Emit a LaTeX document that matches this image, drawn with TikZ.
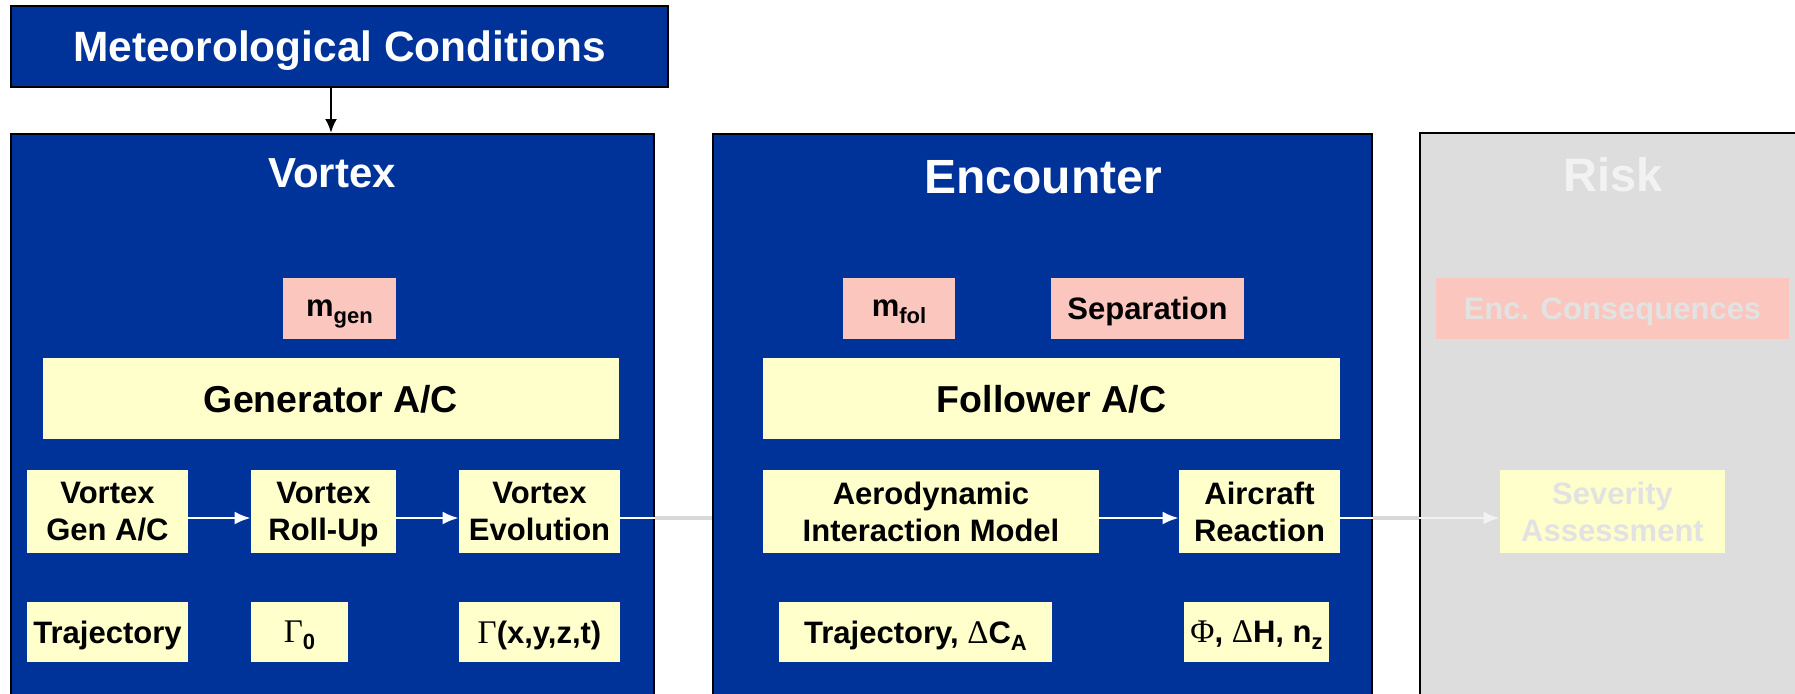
\documentclass[tikz,border=0pt]{standalone}
\usepackage{fontspec}
\setmainfont{Liberation Sans}
\newfontfamily\grk{Liberation Serif}
\usetikzlibrary{arrows.meta,fit}

\definecolor{panelblue}{RGB}{0,51,153}
\definecolor{paleyellow}{RGB}{255,255,204}
\definecolor{salmonpink}{RGB}{251,198,190}
\definecolor{riskgrey}{RGB}{221,221,221}
\definecolor{ghosttext}{RGB}{226,226,226}
\definecolor{ghostwhite}{RGB}{242,242,242}
\definecolor{gapgrey}{RGB}{216,216,216}

% lowered, smaller index text
\newcommand\subtxt[1]{\raisebox{-3.5pt}{\fontsize{11pt}{11pt}\selectfont #1}}
% Greek letters in a serif face
\newcommand\gk[1]{{\grk\mdseries\fontsize{16.5pt}{18pt}\selectfont #1}}

\tikzset{
  panel/.style={fill=panelblue, draw=black, line width=1pt, inner sep=0pt},
  ghostpanel/.style={fill=riskgrey, draw=black, line width=1pt, inner sep=0pt},
  paneltitle/.style={text=white, anchor=base, inner sep=0pt},
  ybox/.style={fill=paleyellow, inner sep=0pt},
  pbox/.style={fill=salmonpink, inner sep=0pt},
  boxtext/.style={inner sep=0pt, align=center, text depth=0pt,
    font=\bfseries\fontsize{15.5pt}{18.5pt}\selectfont},
  bigtext/.style={inner sep=0pt, text depth=0pt,
    font=\bfseries\fontsize{18.75pt}{22pt}\selectfont},
  wire/.style={draw=white, line width=1.25pt},
  warrow/.style={wire, -{Latex[length=8pt,width=6.5pt]}},
  gapwire/.style={draw=gapgrey, line width=2pt},
  ghostarrow/.style={draw=ghostwhite, line width=1.25pt,
    -{Latex[length=8pt,width=6.5pt]}},
}

\begin{document}
\begin{tikzpicture}[x=0.5pt,y=-0.5pt]
\useasboundingbox (0,0) rectangle (1795,693);
\clip (0,0) rectangle (1795,693);

% top input box
\node[panel, fit={(11,6) (668,87)},
      label={[inner sep=0pt, text depth=0pt, text=white, font=\bfseries\fontsize{21.2pt}{24pt}\selectfont]center:{Meteorological Conditions}}] (meteo) {};

% three column panels
\node[panel, fit={(11,134) (654,700)}] (vortex) {};
\node[panel, fit={(713,134) (1372,700)}] (enc) {};
\node[ghostpanel, fit={(1420,133) (1805,700)}] (risk) {};

\node[paneltitle, font=\bfseries\fontsize{21pt}{24pt}\selectfont] (vtitle) at (332,187) {Vortex};
\node[paneltitle, font=\bfseries\fontsize{24pt}{28pt}\selectfont] (etitle) at (1043,193) {Encounter};
\node[paneltitle, text=ghostwhite, font=\bfseries\fontsize{23.5pt}{28pt}\selectfont] (rtitle) at (1613,191) {Risk};

% Vortex column
\node[pbox, fit={(283,278) (396,339)}, label={[boxtext]center:{m\subtxt{gen}}}] (mgen) {};
\node[ybox, fit={(43,358) (619,439)}, label={[bigtext]center:{Generator A/C}}] (gen) {};
\node[ybox, fit={(27,470) (188,553)}, label={[boxtext]center:{Vortex\\Gen A/C}}] (vgen) {};
\node[ybox, fit={(251,470) (396,553)}, label={[boxtext]center:{Vortex\\Roll-Up}}] (vroll) {};
\node[ybox, fit={(459,470) (620,553)}, label={[boxtext]center:{Vortex\\Evolution}}] (vevo) {};
\node[ybox, fit={(27,602) (188,662)}, label={[boxtext]center:{Trajectory}}] (traj) {};
\node[ybox, fit={(251,602) (348,662)}, label={[boxtext]center:{\gk{Γ}\subtxt{0}}}] (gam0) {};
\node[ybox, fit={(459,602) (620,662)}, label={[boxtext]center:{\gk{Γ}(x,y,z,t)}}] (gamxyz) {};

% Encounter column
\node[pbox, fit={(843,278) (955,339)}, label={[boxtext]center:{m\subtxt{fol}}}] (mfol) {};
\node[pbox, fit={(1051,278) (1244,339)}, label={[boxtext]center:{Separation}}] (sep) {};
\node[ybox, fit={(763,358) (1340,439)}, label={[bigtext]center:{Follower A/C}}] (fol) {};
\node[ybox, fit={(763,470) (1099,553)}, label={[boxtext]center:{Aerodynamic\\Interaction Model}}] (aero) {};
\node[ybox, fit={(1179,470) (1340,553)}, label={[boxtext]center:{Aircraft\\Reaction}}] (acr) {};
\node[ybox, fit={(779,602) (1052,662)}, label={[boxtext]center:{Trajectory, \gk{Δ}C\subtxt{A}}}] (trajdc) {};
\node[ybox, fit={(1184,602) (1329,662)}, label={[boxtext]center:{\gk{Φ}, \gk{Δ}H, n\subtxt{z}}}] (phi) {};

% Risk column (greyed out)
\node[pbox, fit={(1436,278) (1789,339)}, label={[boxtext, text=ghosttext]center:{Enc. Consequences}}] (encc) {};
\node[ybox, fit={(1500,470) (1725,553)}, label={[boxtext, text=ghosttext]center:{Severity\\Assessment}}] (sev) {};

% connectors
\coordinate (ry) at (0,518);
\coordinate (mx) at (331,0);
\draw[line width=1.3pt, -{Latex[length=7pt,width=6pt]}] (meteo.south -| mx) -- (vortex.north -| mx);

\draw[warrow] (vgen.east |- ry) -- (vroll.west |- ry);
\draw[warrow] (vroll.east |- ry) -- (vevo.west |- ry);
\draw[wire] (vevo.east |- ry) -- (vortex.east |- ry);
\draw[gapwire] (vortex.east |- ry) -- (enc.west |- ry);

\draw[warrow] (aero.east |- ry) -- (acr.west |- ry);
\draw[wire] (acr.east |- ry) -- (enc.east |- ry);
\draw[gapwire] (enc.east |- ry) -- (risk.west |- ry);
\draw[ghostarrow] (risk.west |- ry) -- (sev.west |- ry);
\end{tikzpicture}
\end{document}
